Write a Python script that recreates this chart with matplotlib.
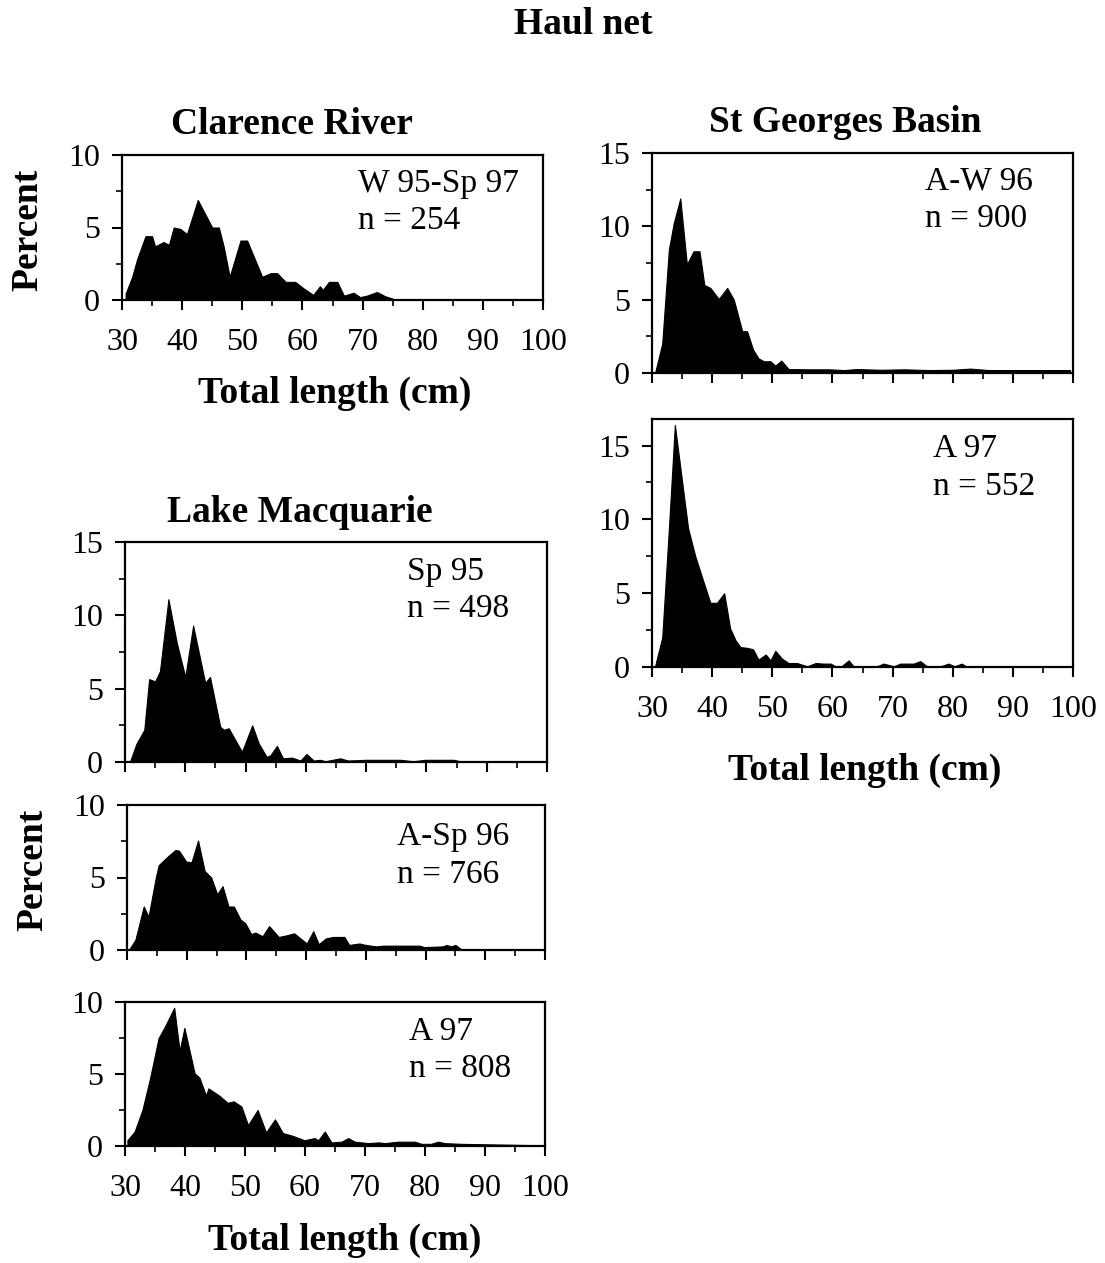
import matplotlib
matplotlib.use("Agg")
import matplotlib.pyplot as plt
from matplotlib.ticker import MultipleLocator, NullFormatter

plt.rcParams["font.family"] = ["Liberation Serif", "DejaVu Serif"]

# length-frequency curves, (total length cm, percent)
clarence_len = [30.6, 31.7, 32.5, 33.9, 35.0, 35.5, 36.9, 37.8, 38.6, 39.7, 40.8, 42.6, 45.0,
                46.1, 46.9, 47.9, 49.7, 50.8, 51.9, 53.3, 54.7, 55.8, 57.2, 58.8, 60.2, 61.8,
                62.9, 63.4, 64.4, 65.8, 66.9, 68.5, 69.6, 70.7, 72.4, 73.8, 75.0]
clarence_pct = [0.45, 1.6, 2.8, 4.4, 4.4, 3.7, 4.0, 3.8, 5.0, 4.9, 4.55, 6.9, 5.0,
                5.0, 3.7, 1.6, 4.1, 4.1, 3.0, 1.6, 1.85, 1.85, 1.25, 1.25, 0.8, 0.35,
                0.95, 0.7, 1.25, 1.25, 0.3, 0.5, 0.2, 0.3, 0.55, 0.25, 0.1]

sgb96_len = [30.5, 31.7, 32.8, 33.6, 34.7, 35.8, 36.9, 37.9, 38.7, 39.7, 41.1, 42.5, 43.6,
             45.0, 45.8, 46.8, 47.7, 48.6, 49.7, 50.5, 51.5, 52.7, 56.0, 59.4, 62.0, 64.0,
             68.0, 72.0, 76.0, 80.0, 82.9, 86.0, 92.0, 99.5]
sgb96_pct = [0.0, 2.0, 8.4, 10.2, 11.9, 7.4, 8.3, 8.3, 6.0, 5.8, 5.05, 5.8, 5.0,
             2.85, 2.85, 1.6, 1.0, 0.8, 0.8, 0.5, 0.85, 0.27, 0.25, 0.25, 0.2, 0.27,
             0.22, 0.25, 0.2, 0.22, 0.3, 0.2, 0.2, 0.2]

sgb97_len = [30.5, 31.7, 32.9, 33.8, 34.9, 36.0, 37.2, 38.1, 39.7, 40.8, 42.0, 43.0, 43.9,
             44.7, 45.8, 46.8, 47.7, 48.9, 49.7, 50.5, 51.6, 52.7, 54.1, 55.8, 57.2, 58.5,
             59.7, 60.5, 61.5, 62.7, 63.5, 67.4, 68.5, 70.2, 71.3, 73.5, 74.6, 75.7, 78.0,
             79.3, 80.3, 81.5, 82.4]
sgb97_pct = [0.05, 2.0, 10.0, 16.4, 12.9, 9.4, 7.5, 6.35, 4.35, 4.35, 5.0, 2.6, 1.8,
             1.35, 1.3, 1.2, 0.5, 0.85, 0.45, 1.1, 0.57, 0.27, 0.27, 0.05, 0.27, 0.23,
             0.23, 0.05, 0.05, 0.45, 0.05, 0.05, 0.23, 0.05, 0.23, 0.23, 0.4, 0.05, 0.05,
             0.23, 0.05, 0.23, 0.0]

lm95_len = [30.8, 31.9, 33.2, 34.0, 35.0, 35.8, 37.2, 38.6, 40.0, 41.3, 43.3, 44.1, 45.8,
            46.4, 47.2, 48.3, 49.4, 51.1, 52.2, 53.5, 54.1, 55.2, 56.2, 57.7, 59.1, 60.1,
            61.3, 62.4, 63.2, 65.7, 67.0, 70.1, 73.5, 75.7, 77.8, 79.8, 84.5, 85.6]
lm95_pct = [0.0, 1.25, 2.2, 5.65, 5.5, 6.2, 11.1, 8.1, 5.8, 9.3, 5.4, 5.8, 2.4,
            2.2, 2.3, 1.5, 0.7, 2.5, 1.25, 0.35, 0.45, 1.1, 0.25, 0.3, 0.1, 0.55,
            0.1, 0.15, 0.05, 0.25, 0.1, 0.15, 0.15, 0.15, 0.05, 0.15, 0.15, 0.05]

lm96_len = [30.3, 31.4, 32.8, 33.6, 34.8, 35.3, 36.7, 38.1, 38.7, 39.9, 40.8, 41.9, 43.0,
            44.1, 45.1, 46.0, 47.0, 47.9, 49.0, 49.8, 50.8, 51.5, 52.7, 53.8, 55.4, 56.6,
            58.0, 60.1, 61.2, 62.1, 63.3, 64.5, 66.4, 67.2, 68.9, 70.0, 71.7, 72.8, 79.0,
            79.8, 82.9, 83.5, 84.3, 85.0, 86.0]
lm96_pct = [0.0, 0.7, 3.0, 2.3, 4.95, 5.85, 6.4, 6.9, 6.85, 6.1, 6.05, 7.55, 5.45,
            5.0, 3.85, 4.4, 3.0, 3.0, 2.1, 1.85, 1.1, 1.2, 0.95, 1.65, 0.9, 1.0,
            1.15, 0.45, 1.3, 0.4, 0.8, 0.9, 0.9, 0.35, 0.45, 0.35, 0.25, 0.3, 0.3,
            0.2, 0.25, 0.35, 0.25, 0.35, 0.05]

lm97_len = [30.4, 31.6, 32.9, 34.2, 35.6, 36.6, 38.2, 39.1, 39.9, 41.6, 42.4, 43.5, 43.9,
            45.7, 47.1, 48.1, 49.4, 50.5, 52.1, 53.5, 55.0, 56.3, 58.0, 59.9, 61.6, 62.2,
            63.3, 64.4, 66.1, 67.2, 68.3, 70.5, 72.2, 73.3, 75.5, 78.3, 79.4, 81.0, 82.2,
            83.3, 86.1, 99.4]
lm97_pct = [0.4, 1.0, 2.5, 4.75, 7.5, 8.25, 9.6, 6.6, 8.2, 5.05, 4.75, 3.5, 4.0,
            3.5, 3.0, 3.1, 2.75, 1.45, 2.5, 0.95, 1.85, 0.9, 0.7, 0.4, 0.55, 0.4,
            1.0, 0.25, 0.3, 0.55, 0.3, 0.2, 0.25, 0.2, 0.3, 0.3, 0.15, 0.15, 0.3,
            0.2, 0.15, 0.05]

W, H = 1105, 1263
fig = plt.figure(figsize=(W / 100, H / 100), dpi=100)


def px_axes(x0, y0, x1, y1):
    return fig.add_axes([x0 / W, 1 - y1 / H, (x1 - x0) / W, (y1 - y0) / H])


def panel(rect, lens, pcts, ymax, label, tx, ty, xlabels):
    ax = px_axes(*rect)
    ax.fill_between(lens, pcts, 0, color="black", lw=0.8)
    ax.set_xlim(30, 100)
    ax.set_ylim(0, ymax)
    ax.xaxis.set_major_locator(MultipleLocator(10))
    ax.xaxis.set_minor_locator(MultipleLocator(5))
    ax.yaxis.set_major_locator(MultipleLocator(5))
    ax.yaxis.set_minor_locator(MultipleLocator(2.5))
    ax.tick_params(which="major", direction="out", length=7, width=1.5,
                   labelsize=23, pad=9)
    ax.tick_params(which="minor", direction="out", length=4, width=1.2)
    ax.tick_params(axis="x", pad=13)
    if not xlabels:
        ax.xaxis.set_major_formatter(NullFormatter())
    for s in ax.spines.values():
        s.set_linewidth(1.6)
    ax.text(tx, ty, label, transform=ax.transAxes, fontsize=24,
            va="top", ha="left", linespacing=1.3)
    return ax


panel((122, 155, 543, 300), clarence_len, clarence_pct, 10,
      "W 95-Sp 97\nn = 254", 0.56, 0.91, True)
panel((652, 153, 1073, 373), sgb96_len, sgb96_pct, 15,
      "A-W 96\nn = 900", 0.648, 0.94, False)
panel((652, 419, 1073, 667), sgb97_len, sgb97_pct, 16.8,
      "A 97\nn = 552", 0.668, 0.94, True)
panel((125, 542, 547, 762), lm95_len, lm95_pct, 15,
      "Sp 95\nn = 498", 0.668, 0.935, False)
panel((127, 805, 545, 950), lm96_len, lm96_pct, 10,
      "A-Sp 96\nn = 766", 0.646, 0.885, False)
panel((125, 1002, 545, 1146), lm97_len, lm97_pct, 10,
      "A 97\nn = 808", 0.676, 0.9, True)


def ftext(x, y, s, size=27, **kw):
    fig.text(x / W, 1 - y / H, s, fontsize=size, fontweight="bold",
             ha="center", va="center", **kw)


ftext(583, 25, "Haul net")
ftext(292, 124, "Clarence River")
ftext(845, 123, "St Georges Basin")
ftext(300, 512, "Lake Macquarie")
ftext(28, 230, "Percent", rotation=90)
ftext(33, 870, "Percent", rotation=90)
ftext(335, 393, "Total length (cm)")
ftext(865, 770, "Total length (cm)")
ftext(345, 1240, "Total length (cm)")

fig.savefig("out.png", dpi=100)
